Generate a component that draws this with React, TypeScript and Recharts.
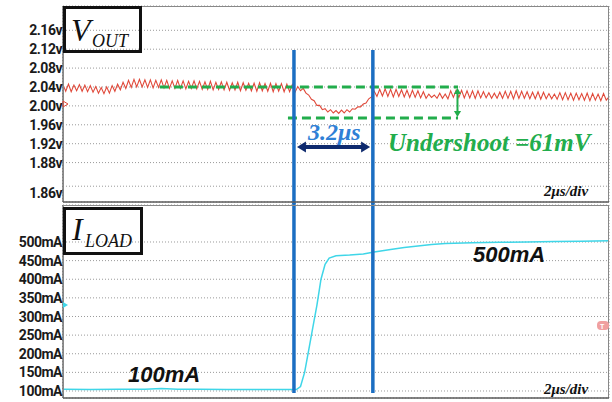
import { CartesianGrid, Line, LineChart, ReferenceLine, XAxis, YAxis } from "recharts";

// scope record: V_OUT sampled every 0.1 µs from t = 0 to 20 µs
const SAMPLE_US = 0.1;
const vOut = [
  2.045, 2.031, 2.046, 2.030, 2.044, 2.032, 2.045, 2.031, 2.044, 2.030,
  2.043, 2.029, 2.041, 2.027, 2.039, 2.026, 2.040, 2.027, 2.043, 2.031,
  2.046, 2.034, 2.050, 2.037, 2.054, 2.039, 2.056, 2.040, 2.056, 2.040,
  2.055, 2.039, 2.055, 2.038, 2.054, 2.039, 2.055, 2.038, 2.054, 2.037,
  2.053, 2.037, 2.054, 2.037, 2.053, 2.036, 2.052, 2.037, 2.053, 2.036,
  2.052, 2.035, 2.051, 2.035, 2.052, 2.034, 2.050, 2.035, 2.051, 2.034,
  2.050, 2.033, 2.049, 2.034, 2.050, 2.032, 2.049, 2.033, 2.048, 2.032,
  2.048, 2.031, 2.049, 2.032, 2.047, 2.031, 2.048, 2.030, 2.047, 2.031,
  2.047, 2.030, 2.046, 2.030, 2.045, 2.029, 2.041, 2.032, 2.037, 2.027,
  2.023, 2.014, 2.011, 2.001, 2.001, 1.992, 1.994, 1.987, 1.992, 1.985,
  1.990, 1.984, 1.991, 1.985, 1.992, 1.987, 1.994, 1.993, 1.998, 1.998,
  2.004, 2.006, 2.015, 2.019, 2.031, 2.020, 2.035, 2.021, 2.036, 2.020,
  2.035, 2.019, 2.035, 2.020, 2.034, 2.019, 2.033, 2.018, 2.033, 2.018,
  2.032, 2.017, 2.030, 2.016, 2.025, 2.018, 2.023, 2.016, 2.027, 2.016,
  2.025, 2.015, 2.032, 2.018, 2.033, 2.018, 2.033, 2.017, 2.032, 2.017,
  2.032, 2.016, 2.032, 2.017, 2.030, 2.017, 2.028, 2.016, 2.027, 2.016,
  2.029, 2.016, 2.031, 2.016, 2.031, 2.015, 2.032, 2.016, 2.031, 2.016,
  2.030, 2.015, 2.029, 2.015, 2.030, 2.014, 2.029, 2.015, 2.026, 2.015,
  2.025, 2.014, 2.028, 2.013, 2.028, 2.013, 2.027, 2.012, 2.027, 2.013,
  2.026, 2.012, 2.027, 2.011, 2.026, 2.012, 2.025, 2.011, 2.026, 2.012,
  2.019,
];

const iTimes = [
  0, 1, 2, 3, 3.6, 4.2, 5, 6, 7, 8, 8.55, 8.7, 8.85, 9.0, 9.15, 9.3, 9.45, 9.6,
  9.75, 10.0, 10.5, 11.0, 11.4, 12.0, 12.5, 13, 13.5, 14, 15, 16, 17, 18, 19, 20,
];
const iLoad = [
  105, 104, 105, 105, 107, 105, 105, 104, 104, 104, 104, 112, 150, 210, 270, 330, 400, 440,
  457, 463, 465, 468, 473, 480, 485, 489, 493, 496, 498, 499, 500, 501, 502, 503,
];

const vTicks = [2.16, 2.12, 2.08, 2.04, 2.0, 1.96, 1.92, 1.88, 1.83];
const vTickLabels = ["2.16v", "2.12v", "2.08v", "2.04v", "2.00v", "1.96v", "1.92v", "1.88v", "1.86v"];
const iTicks = [500, 450, 400, 350, 300, 250, 200, 150, 100];
const iTickLabels = ["500mA", "450mA", "400mA", "350mA", "300mA", "250mA", "200mA", "150mA", "100mA"];

// 2 µs/div graticule
const gridTimes = [1.28, 3.28, 5.28, 7.28, 9.28, 11.28, 13.28, 15.28, 17.28, 19.28];
const cursorTimes = [8.46, 11.35];

const vData = vOut.map((v, k) => ({ t: k * SAMPLE_US, v }));
const iData = iTimes.map((t, k) => ({ t, i: iLoad[k] }));

const BLUE = "#1b6ec2";
const GREEN = "#22ad4c";
const NAVY = "#0e2a6e";

function arrowShape(color: string, width: number, head: number) {
  return (p: any) => {
    const { x1, y1, x2, y2 } = p;
    const a = Math.atan2(y2 - y1, x2 - x1);
    const ux = Math.cos(a);
    const uy = Math.sin(a);
    const hw = head * 0.6;
    const tri = (tx: number, ty: number, dx: number, dy: number) =>
      `${tx},${ty} ${tx - dx * head - dy * hw},${ty - dy * head + dx * hw} ${tx - dx * head + dy * hw},${ty - dy * head - dx * hw}`;
    return (
      <g>
        <line
          x1={x1 + ux * head * 0.8}
          y1={y1 + uy * head * 0.8}
          x2={x2 - ux * head * 0.8}
          y2={y2 - uy * head * 0.8}
          stroke={color}
          strokeWidth={width}
        />
        <polygon points={tri(x2, y2, ux, uy)} fill={color} />
        <polygon points={tri(x1, y1, -ux, -uy)} fill={color} />
      </g>
    );
  };
}

function makeTick(values: number[], labels: string[], lastShift: number) {
  return (p: any) => {
    const k = values.indexOf(p.payload.value);
    const dy = k === values.length - 1 ? lastShift : 0;
    return (
      <text
        x={p.x}
        y={p.y + dy}
        dy="0.36em"
        textAnchor="end"
        fill="#1a1a1a"
        fontFamily="Roboto, sans-serif"
        fontWeight={700}
        fontSize={14}
        letterSpacing={-0.5}
      >
        {labels[k]}
      </text>
    );
  };
}

const serif = "'Liberation Serif', 'Times New Roman', serif";
const sans = "'Liberation Sans', Arial, sans-serif";

export default function App() {
  return (
    <div style={{ position: "absolute", left: 0, top: 0, width: 612, height: 402, background: "#fff", overflow: "hidden" }}>
      <div style={{ position: "absolute", left: 0, top: 0 }}>
        <LineChart width={612} height={204} data={vData} margin={{ top: 6, right: 3, bottom: 2, left: 0 }}>
          <CartesianGrid stroke="#9a9a9a" strokeDasharray="1 2" />
          <XAxis
            dataKey="t"
            type="number"
            domain={[0, 20]}
            ticks={gridTimes}
            height={0}
            tick={false}
            tickLine={false}
            axisLine={false}
          />
          <YAxis
            type="number"
            domain={[1.7966, 2.2114]}
            ticks={vTicks}
            interval={0}
            width={63}
            tickSize={0}
            tickMargin={1}
            axisLine={{ stroke: "#333" }}
            tickLine={false}
            tick={makeTick(vTicks, vTickLabels, 7)}
          />
          <Line dataKey="v" type="linear" stroke="#e0493a" strokeWidth={1.1} dot={false} isAnimationActive={false} />
          <ReferenceLine
            segment={[{ x: 3.55, y: 2.04 }, { x: 14.47, y: 2.04 }]}
            stroke={GREEN}
            strokeWidth={3}
            strokeDasharray="9 5"
          />
          <ReferenceLine
            segment={[{ x: 8.24, y: 1.9744 }, { x: 14.47, y: 1.9744 }]}
            stroke={GREEN}
            strokeWidth={3}
            strokeDasharray="9 5"
          />
          <ReferenceLine
            segment={[{ x: 14.45, y: 2.038 }, { x: 14.45, y: 1.9764 }]}
            shape={arrowShape(GREEN, 2, 6)}
          />
          {cursorTimes.map((t) => (
            <ReferenceLine
              key={t}
              segment={[{ x: t, y: 2.1183 }, { x: t, y: 1.789 }]}
              stroke={BLUE}
              strokeWidth={3.5}
              ifOverflow="visible"
            />
          ))}
          <ReferenceLine
            segment={[{ x: 8.57, y: 1.913 }, { x: 11.25, y: 1.913 }]}
            shape={arrowShape(NAVY, 4, 9)}
          />
        </LineChart>
      </div>

      <div style={{ position: "absolute", left: 0, top: 203 }}>
        <LineChart width={612} height={199} data={iData} margin={{ top: 2, right: 3, bottom: 4, left: 0 }}>
          <CartesianGrid stroke="#9a9a9a" strokeDasharray="1 2" />
          <XAxis
            dataKey="t"
            type="number"
            domain={[0, 20]}
            ticks={gridTimes}
            height={0}
            tick={false}
            tickLine={false}
            axisLine={false}
          />
          <YAxis
            type="number"
            domain={[81.2, 599.3]}
            ticks={iTicks}
            interval={0}
            width={63}
            tickSize={0}
            tickMargin={1}
            axisLine={{ stroke: "#333" }}
            tickLine={false}
            tick={makeTick(iTicks, iTickLabels, 0)}
          />
          <Line dataKey="i" type="linear" stroke="#3fd6e8" strokeWidth={1.5} dot={false} isAnimationActive={false} />
          {cursorTimes.map((t) => (
            <ReferenceLine
              key={t}
              segment={[{ x: t, y: 606 }, { x: t, y: 94.6 }]}
              stroke={BLUE}
              strokeWidth={3.5}
              ifOverflow="visible"
            />
          ))}
        </LineChart>
      </div>

      <svg width={612} height={402} style={{ position: "absolute", left: 0, top: 0, pointerEvents: "none" }}>
        {/* panel frames */}
        <rect x={63.5} y={6.5} width={545} height={195.5} fill="none" stroke="#888" />
        <line x1={63} y1={202} x2={609} y2={202} stroke="#444" />
        <rect x={63.5} y={205.5} width={545} height={192.5} fill="none" stroke="#888" />
        <line x1={63} y1={398} x2={609} y2={398} stroke="#444" />

        {/* channel labels */}
        <rect x={64.5} y={7.5} width={76} height={44} fill="none" stroke="#111" strokeWidth={3} />
        <text x={71} y={41} fontFamily={serif} fontStyle="italic" fontSize={32} fill="#111">V</text>
        <text x={92} y={47} fontFamily={serif} fontStyle="italic" fontSize={18} fill="#111">OUT</text>
        <rect x={64.5} y={208.5} width={77} height={45} fill="none" stroke="#111" strokeWidth={3} />
        <text x={72} y={240} fontFamily={serif} fontStyle="italic" fontSize={32} fill="#111">I</text>
        <text x={85} y={247} fontFamily={serif} fontStyle="italic" fontSize={18} fill="#111">LOAD</text>

        <text x={308} y={140} fontFamily={serif} fontStyle="italic" fontWeight="bold" fontSize={24} fill="#2f80d6">3.2μs</text>
        <text x={388} y={151} fontFamily={serif} fontStyle="italic" fontWeight="bold" fontSize={25} fill={GREEN}>Undershoot =61mV</text>

        <text x={544} y={196} fontFamily={serif} fontStyle="italic" fontWeight="bold" fontSize={15} fill="#111">2μs/div</text>
        <text x={544} y={394} fontFamily={serif} fontStyle="italic" fontWeight="bold" fontSize={15} fill="#111">2μs/div</text>

        <text x={473} y={262} fontFamily={sans} fontStyle="italic" fontWeight="bold" fontSize={22} fill="#111">500mA</text>
        <text x={128} y={382} fontFamily={sans} fontStyle="italic" fontWeight="bold" fontSize={22} fill="#111">100mA</text>

        {/* scope markers */}
        <polygon points="63,101 68,104 63,107" fill="none" stroke="#e0493a" strokeWidth={1} />
        <polygon points="63,302 68,305 63,308" fill="#3fd6e8" />
        <rect x={597} y={321} width={12} height={9} rx={4} fill="#f0a0a0" />
        <text x={600} y={328.5} fontFamily={sans} fontSize={7} fontWeight="bold" fill="#fff">T</text>
      </svg>
    </div>
  );
}
